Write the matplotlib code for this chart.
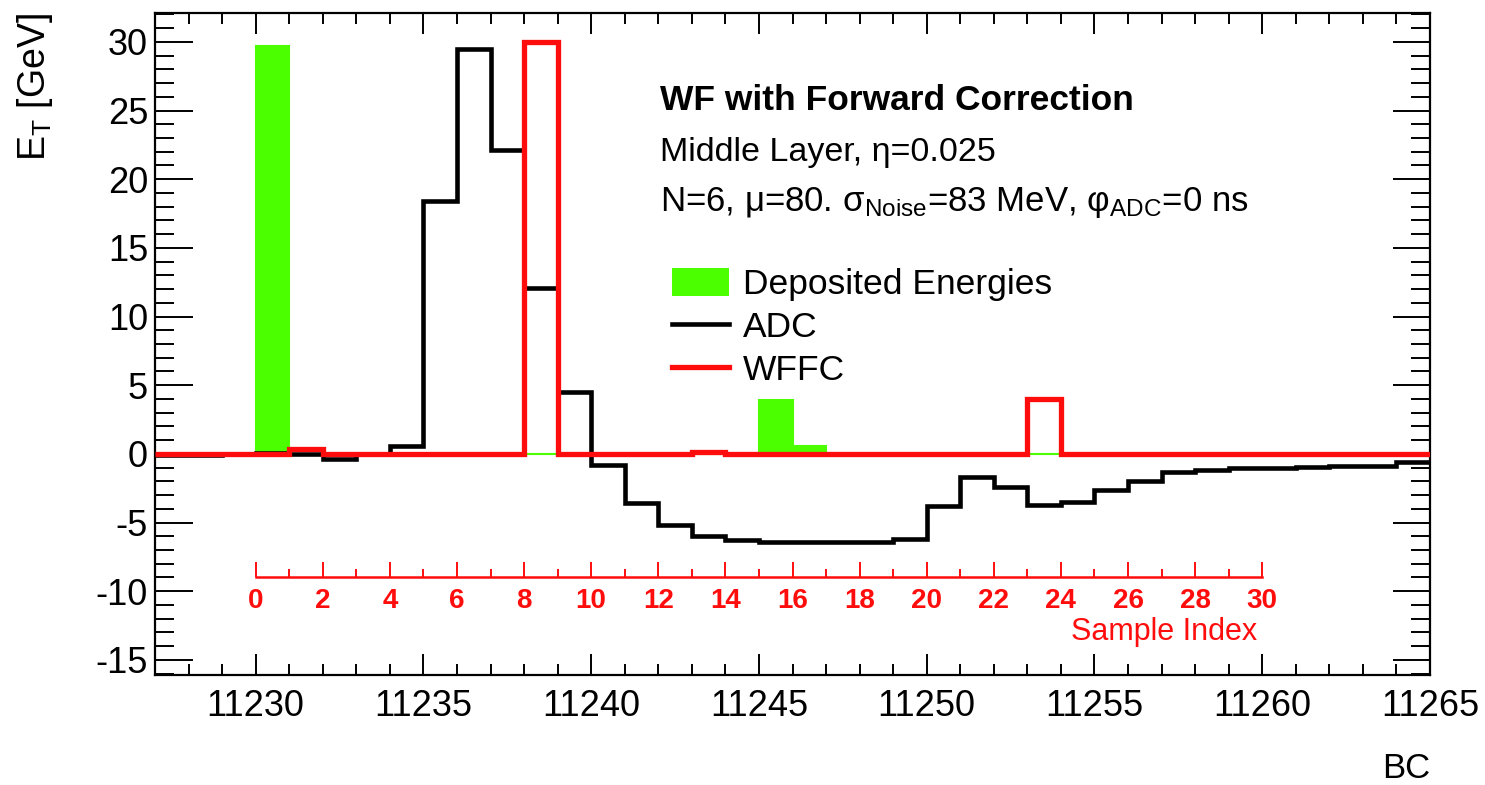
import numpy as np
import matplotlib
matplotlib.use('Agg')
from matplotlib import pyplot as plt
from matplotlib.patches import Patch
from matplotlib.lines import Line2D

plt.rcParams['font.family'] = ['Liberation Sans', 'DejaVu Sans']
plt.rcParams['mathtext.fontset'] = 'custom'
plt.rcParams['mathtext.rm'] = 'Liberation Sans'
plt.rcParams['mathtext.it'] = 'Liberation Sans:italic'
plt.rcParams['mathtext.bf'] = 'Liberation Sans:bold'
plt.rcParams['axes.unicode_minus'] = False

# one bin per bunch crossing, first bin starts at BC 11227
first_bc = 11227
first_sample_bc = 11230   # sample index 0

deposited = [0, 0, 0, 29.7, 0, 0, 0, 0, 0, 0, 0, 0, 0, 0, 0, 0, 0, 0, 3.9, 0.6,
             0, 0, 0, 0, 0, 0, 0, 0, 0, 0, 0, 0, 0, 0, 0, 0, 0, 0]
adc = [-0.05, -0.05, 0.0, 0.05, 0.0, -0.35, 0.0, 0.6, 18.4, 29.5, 22.1, 12.1, 4.5,
       -0.8, -3.6, -5.2, -6.0, -6.25, -6.45, -6.45, -6.45, -6.45, -6.2, -3.8,
       -1.7, -2.4, -3.7, -3.5, -2.6, -2.0, -1.35, -1.15, -1.0, -1.0, -0.95, -0.9,
       -0.9, -0.6]
wffc = [0, 0, 0, 0, 0.35, 0, 0, 0, 0, 0, 0, 30.0, 0, 0, 0, 0, 0.15, 0, 0, 0,
        0, 0, 0, 0, 0, 0, 4.0, 0, 0, 0, 0, 0, 0, 0, 0, 0, 0, 0]

bc_ticks = [11230, 11235, 11240, 11245, 11250, 11255, 11260, 11265]
et_ticks = [-15, -10, -5, 0, 5, 10, 15, 20, 25, 30]
sample_ticks = list(range(0, 31, 2))

green = '#4cff00'
red = '#ff0d0d'

edges = np.arange(first_bc, first_bc + len(adc) + 1)

fig = plt.figure(figsize=(14.85, 7.85), dpi=100)
ax = fig.add_axes([155 / 1485, 1 - 675 / 785, 1275 / 1485, 662 / 785])

ax.stairs(deposited, edges, fill=True, color=green, lw=0, zorder=2)
ax.stairs(deposited, edges, baseline=None, color=green, lw=1.5, zorder=2)
ax.stairs(adc, edges, baseline=None, color='black', lw=3.3, zorder=3)
ax.stairs(wffc, edges, baseline=None, color=red, lw=3.8, zorder=4)

ax.set_xlim(11227, 11265)
ax.set_ylim(-16.1, 32.1)
ax.set_xticks(bc_ticks)
ax.set_xticks(np.arange(11227, 11266), minor=True)
ax.set_yticks(et_ticks)
ax.set_yticks(np.arange(-16, 33), minor=True)

for s in ax.spines.values():
    s.set_linewidth(1.6)
ax.tick_params(which='both', direction='in', top=True, right=True, width=1.4)
ax.tick_params(axis='x', which='major', length=15, labelsize=26, pad=10)
ax.tick_params(axis='x', which='minor', length=8)
ax.tick_params(axis='y', which='major', length=27, labelsize=26, pad=5)
ax.tick_params(axis='y', which='minor', length=14)

# sample index axis drawn inside the frame
sec = ax.secondary_xaxis(-8.93, functions=(lambda b: b - first_sample_bc,
                                           lambda s: s + first_sample_bc),
                         transform=ax.transData)
sec.spines['bottom'].set_bounds(0, 30)
sec.spines['bottom'].set_color(red)
sec.spines['bottom'].set_linewidth(1.8)
sec.set_xticks(sample_ticks)
sec.set_xticks(range(0, 31), minor=True)
sec.tick_params(which='both', direction='in', colors=red, width=1.4)
sec.tick_params(which='major', length=11, labelsize=20, pad=8)
sec.tick_params(which='minor', length=6)
for lab in sec.get_xticklabels():
    lab.set_fontweight('bold')
fig.text(1257 / 1485, 1 - 632 / 785, 'Sample Index', color=red, fontsize=22,
         ha='right', va='center')

fig.text(35 / 1485, 1 - 13 / 785, r'E$_{\mathrm{T}}$ [GeV]', fontsize=27,
         rotation=90, ha='center', va='top')
fig.text(1430 / 1485, 1 - 769 / 785, 'BC', fontsize=25, ha='right', va='center')

fig.text(660 / 1485, 1 - 100 / 785, 'WF with Forward Correction', fontsize=25.5,
         fontweight='bold', va='center')
fig.text(660 / 1485, 1 - 153 / 785, 'Middle Layer, η=0.025', fontsize=24.5,
         va='center')
fig.text(660 / 1485, 1 - 203 / 785,
         r'N=6, μ=80. σ$_{\mathrm{Noise}}$=83 MeV, φ$_{\mathrm{ADC}}$=0 ns',
         fontsize=25, va='center')

handles = [Patch(facecolor=green, edgecolor='none'),
           Line2D([], [], color='black', lw=3.3),
           Line2D([], [], color=red, lw=3.8)]
ax.legend(handles, ['Deposited Energies', 'ADC', 'WFFC'],
          loc='upper left', bbox_to_anchor=(672 / 1485, 1 - 268 / 785),
          bbox_transform=fig.transFigure, frameon=False, fontsize=25.5,
          borderpad=0, borderaxespad=0, handlelength=1.6, handleheight=0.85,
          handletextpad=0.4, labelspacing=0.27)

fig.savefig('out.png', dpi=100)
